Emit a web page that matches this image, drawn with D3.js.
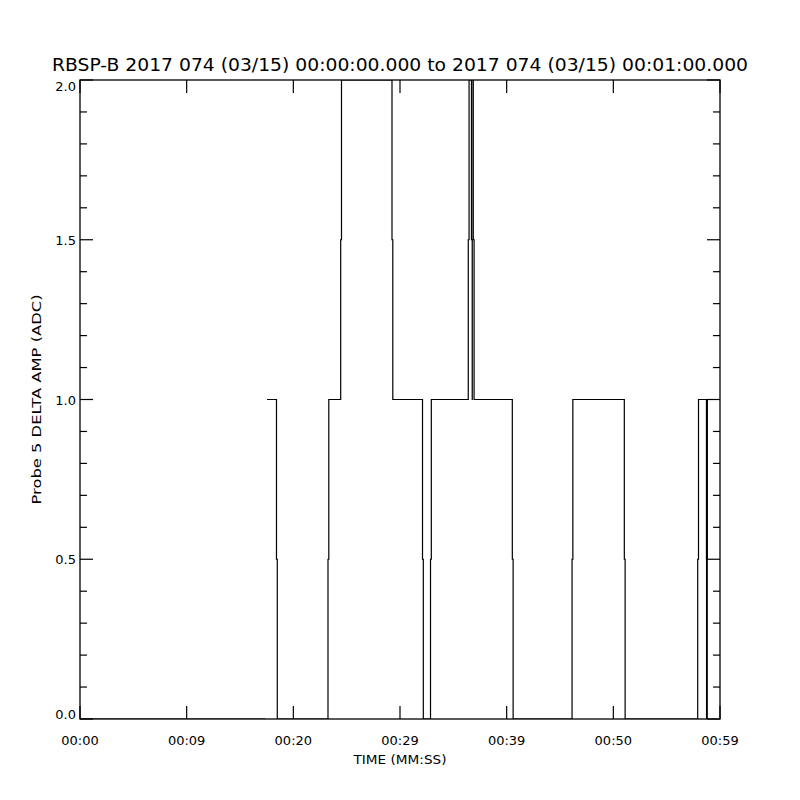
<!DOCTYPE html>
<html>
<head>
<meta charset="utf-8">
<script src="https://cdn.jsdelivr.net/npm/d3@7"></script>
<style>
  body { margin: 0; background: #fff; }
  text { font-family: "DejaVu Sans", sans-serif; fill: #000; }
</style>
</head>
<body>
<svg id="chart" width="800" height="800"></svg>
<script>
// tick labels (IDL rounds the second marks oddly, keep them as drawn)
const xTickValues = [0, 10, 20, 30, 40, 50, 60]
const xTickLabels = ['00:00', '00:09', '00:20', '00:29', '00:39', '00:50', '00:59']
const yTickValues = [0, 0.5, 1, 1.5, 2]
const yTickLabels = ['0.0', '0.5', '1.0', '1.5', '2.0']

// step data, seconds after 00:00:00 and ADC value held until the next time
const segment1Times = [0, 17.4]
const segment1Values = [0, 0]
const segment2Times = [17.53, 18.42, 23.25, 24.44, 29.25, 32.11, 32.86, 36.40, 36.70, 36.77, 36.87, 40.53, 46.13, 51.03, 57.91, 58.73, 58.74, 60]
const segment2Values = [1, 0, 1, 2, 1, 0, 1, 2, 1, 2, 1, 0, 1, 0, 1, 0, 1, 1]

const titleText = 'RBSP-B 2017 074 (03/15) 00:00:00.000 to 2017 074 (03/15) 00:01:00.000'
const xTitle = 'TIME (MM:SS)'
const yTitle = 'Probe 5 DELTA AMP (ADC)'

const plotLeft = 80, plotRight = 720, plotTop = 80, plotBottom = 719

const svg = d3.select('#chart')

const xScale = d3.scaleLinear().domain([0, 60]).range([plotLeft, plotRight])
const yScale = d3.scaleLinear().domain([0, 2]).range([plotBottom, plotTop])

// clip the trace to the plot box
svg.append('clipPath').attr('id', 'box')
  .append('rect')
  .attr('x', plotLeft).attr('y', plotTop)
  .attr('width', plotRight - plotLeft).attr('height', plotBottom - plotTop)

// IDL histogram style: vertical edge takes a 1px jog at the half-way point
const stepPath = (times, values) => {
  let p = d3.path()
  p.moveTo(xScale(times[0]), yScale(values[0]))
  for (let i = 1; i < times.length; i++) {
    const x = xScale(times[i])
    const v0 = values[i - 1], v1 = values[i]
    p.lineTo(x, yScale(v0))
    if (v0 !== v1) {
      const mid = yScale((v0 + v1) / 2)
      p.lineTo(x, mid)
      p.lineTo(x + 0.8, mid)
      p.lineTo(x + 0.8, yScale(v1))
    }
  }
  return p.toString()
}

const traces = svg.append('g').attr('clip-path', 'url(#box)')
;[[segment1Times, segment1Values], [segment2Times, segment2Values]].forEach(([t, v]) => {
  traces.append('path')
    .attr('d', stepPath(t, v))
    .attr('fill', 'none')
    .attr('stroke', '#000')
    .attr('stroke-width', 1.2)
})

// frame
svg.append('rect')
  .attr('x', plotLeft).attr('y', plotTop)
  .attr('width', plotRight - plotLeft).attr('height', plotBottom - plotTop)
  .attr('fill', 'none').attr('stroke', '#000').attr('stroke-width', 1.3)

const major = 13, minor = 7
const yMinor = d3.range(0, 2.0001, 0.1).filter(d => Math.abs(d * 2 - Math.round(d * 2)) > 1e-6)

const ticks = svg.append('g').attr('stroke', '#000').attr('stroke-width', 1.2)

xTickValues.forEach(d => {
  ticks.append('line').attr('x1', xScale(d)).attr('x2', xScale(d)).attr('y1', plotBottom).attr('y2', plotBottom - major)
  ticks.append('line').attr('x1', xScale(d)).attr('x2', xScale(d)).attr('y1', plotTop).attr('y2', plotTop + major)
})
yTickValues.forEach(d => {
  ticks.append('line').attr('x1', plotLeft).attr('x2', plotLeft + major).attr('y1', yScale(d)).attr('y2', yScale(d))
  ticks.append('line').attr('x1', plotRight).attr('x2', plotRight - major).attr('y1', yScale(d)).attr('y2', yScale(d))
})
yMinor.forEach(d => {
  ticks.append('line').attr('x1', plotLeft).attr('x2', plotLeft + minor).attr('y1', yScale(d)).attr('y2', yScale(d))
  ticks.append('line').attr('x1', plotRight).attr('x2', plotRight - minor).attr('y1', yScale(d)).attr('y2', yScale(d))
})

// tick labels
svg.append('g').selectAll('text')
  .data(xTickValues)
  .join('text')
  .attr('x', d => xScale(d))
  .attr('y', 745)
  .attr('text-anchor', 'middle')
  .attr('font-size', 13)
  .text((d, i) => xTickLabels[i])

svg.append('g').selectAll('text')
  .data(yTickValues)
  .join('text')
  .attr('x', 76)
  .attr('y', d => yScale(d) + (d === 2 ? 11 : d === 0 ? 0 : 5))
  .attr('text-anchor', 'end')
  .attr('font-size', 13)
  .text((d, i) => yTickLabels[i])

// titles
svg.append('text')
  .attr('x', 400).attr('y', 71)
  .attr('text-anchor', 'middle')
  .attr('font-size', 17)
  .attr('textLength', 696)
  .attr('lengthAdjust', 'spacingAndGlyphs')
  .text(titleText)

svg.append('text')
  .attr('x', 400).attr('y', 764)
  .attr('text-anchor', 'middle')
  .attr('font-size', 13)
  .attr('textLength', 93)
  .attr('lengthAdjust', 'spacingAndGlyphs')
  .text(xTitle)

svg.append('text')
  .attr('transform', `translate(41, ${(plotTop + plotBottom) / 2}) rotate(-90)`)
  .attr('text-anchor', 'middle')
  .attr('font-size', 13)
  .attr('textLength', 210)
  .attr('lengthAdjust', 'spacingAndGlyphs')
  .text(yTitle)
</script>
</body>
</html>
